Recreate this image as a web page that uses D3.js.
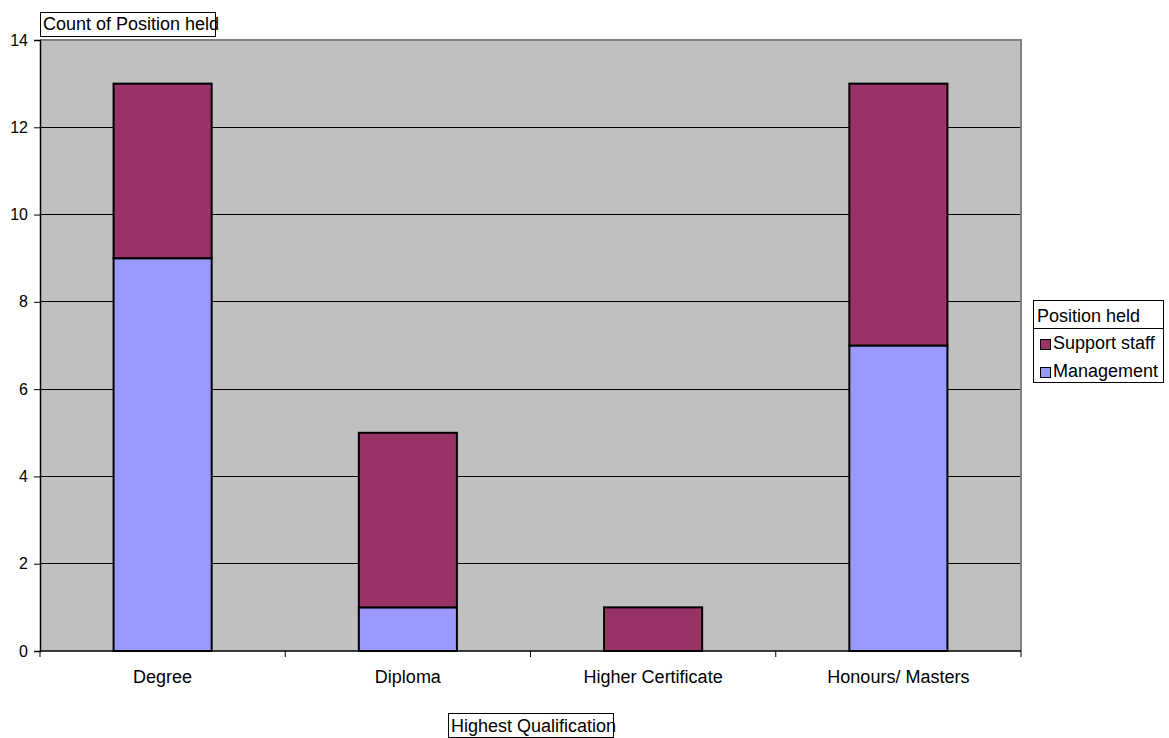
<!DOCTYPE html>
<html>
<head>
<meta charset="utf-8">
<script src="https://cdn.jsdelivr.net/npm/d3@7"></script>
<style>
  html, body { margin: 0; padding: 0; background: #fff; }
  svg { display: block; font-family: "Liberation Sans", Arial, sans-serif; }
</style>
</head>
<body>
<svg id="chart" width="1169" height="738"></svg>
<script>
// Qualification categories and counts per position held
const categories = ["Degree", "Diploma", "Higher Certificate", "Honours/ Masters"];
const management = [9, 1, 0, 7];
const supportStaff = [4, 4, 1, 6];
const yTicks = [0, 2, 4, 6, 8, 10, 12, 14];
const seriesNames = ["Support staff", "Management"];
const seriesColors = { "Management": "#9999ff", "Support staff": "#993366" };

const svg = d3.select("#chart");
const plot = { left: 40, top: 40, right: 1021, bottom: 651 };
const FONT = 18;

const x = d3.scaleBand().domain(categories).range([plot.left, plot.right]).paddingInner(0.6).paddingOuter(0.3);
const xOuter = d3.scaleBand().domain(categories).range([plot.left, plot.right]);
const y = d3.scaleLinear().domain([0, 14]).range([plot.bottom, plot.top]);

// plot background
svg.append("rect")
  .attr("x", plot.left).attr("y", plot.top)
  .attr("width", plot.right - plot.left).attr("height", plot.bottom - plot.top)
  .attr("fill", "#c0c0c0");

// horizontal gridlines
svg.append("g").selectAll("line").data(yTicks.filter(t => t > 0 && t < 14)).join("line")
  .attr("x1", plot.left).attr("x2", plot.right)
  .attr("y1", d => y(d)).attr("y2", d => y(d))
  .attr("stroke", "#000").attr("stroke-width", 1).attr("shape-rendering", "crispEdges");

// plot frame (top and right)
svg.append("path")
  .attr("d", `M${plot.left},${plot.top}H${plot.right}V${plot.bottom}`)
  .attr("fill", "none").attr("stroke", "#808080").attr("stroke-width", 2);

// stacked bars
const rows = categories.map((c, i) => ({ category: c, "Management": management[i], "Support staff": supportStaff[i] }));
const stack = d3.stack().keys(["Management", "Support staff"])(rows);
svg.append("g").selectAll("g").data(stack).join("g")
  .attr("fill", d => seriesColors[d.key])
  .selectAll("rect").data(d => d.filter(s => s[1] - s[0] > 0)).join("rect")
  .attr("x", d => x(d.data.category))
  .attr("width", x.bandwidth())
  .attr("y", d => y(d[1]))
  .attr("height", d => y(d[0]) - y(d[1]))
  .attr("stroke", "#000").attr("stroke-width", 2);

// y axis
const yAxis = svg.append("g").attr("transform", `translate(${plot.left},0)`)
  .call(d3.axisLeft(y).tickValues(yTicks).tickSize(6).tickPadding(6).tickFormat(d3.format("d")));
yAxis.select(".domain").attr("stroke", "#000").attr("stroke-width", 1.5);
yAxis.selectAll(".tick line").attr("stroke", "#000");
yAxis.selectAll("text").attr("font-size", 16).attr("fill", "#000").attr("font-family", "Liberation Sans, Arial, sans-serif");

// x axis: ticks at category boundaries
svg.append("line")
  .attr("x1", plot.left).attr("x2", plot.right)
  .attr("y1", plot.bottom).attr("y2", plot.bottom)
  .attr("stroke", "#000").attr("stroke-width", 1.5);
const boundaries = categories.map(c => xOuter(c) + xOuter.bandwidth());
svg.append("g").selectAll("line").data([plot.left, ...boundaries]).join("line")
  .attr("x1", d => d).attr("x2", d => d)
  .attr("y1", plot.bottom).attr("y2", plot.bottom + 6)
  .attr("stroke", "#000").attr("stroke-width", 1);
svg.append("g").selectAll("text").data(categories).join("text")
  .attr("x", d => xOuter(d) + xOuter.bandwidth() / 2)
  .attr("y", 683)
  .attr("text-anchor", "middle").attr("font-size", FONT).attr("fill", "#000")
  .text(d => d);

// boxed field labels
function boxedLabel(text, xLeft, top, w, h, baseline) {
  const g = svg.append("g");
  g.append("rect").attr("x", xLeft + 0.5).attr("y", top + 0.5).attr("width", w).attr("height", h)
    .attr("fill", "#fff").attr("stroke", "#000").attr("stroke-width", 1);
  g.append("text").attr("x", xLeft + 3).attr("y", baseline).attr("font-size", FONT).attr("fill", "#000").text(text);
}
boxedLabel("Count of Position held", 40, 12, 175, 24, 30);
boxedLabel("Highest Qualification", 448, 713, 165, 24, 732);

// legend
const lg = svg.append("g");
lg.append("rect").attr("x", 1033.5).attr("y", 300.5).attr("width", 130).attr("height", 82)
  .attr("fill", "#fff").attr("stroke", "#000").attr("stroke-width", 1);
lg.append("line").attr("x1", 1033.5).attr("x2", 1163.5).attr("y1", 328.5).attr("y2", 328.5)
  .attr("stroke", "#000").attr("stroke-width", 1);
lg.append("text").attr("x", 1037).attr("y", 322).attr("font-size", FONT).attr("fill", "#000").text("Position held");
const items = lg.selectAll("g.item").data(seriesNames).join("g").attr("class", "item")
  .attr("transform", (d, i) => `translate(1040,${339 + i * 28})`);
items.append("rect").attr("x", 0.5).attr("y", 0.5).attr("width", 10).attr("height", 10)
  .attr("fill", d => seriesColors[d]).attr("stroke", "#000").attr("stroke-width", 1);
items.append("text").attr("x", 13).attr("y", 10).attr("font-size", FONT).attr("fill", "#000").text(d => d);
</script>
</body>
</html>
